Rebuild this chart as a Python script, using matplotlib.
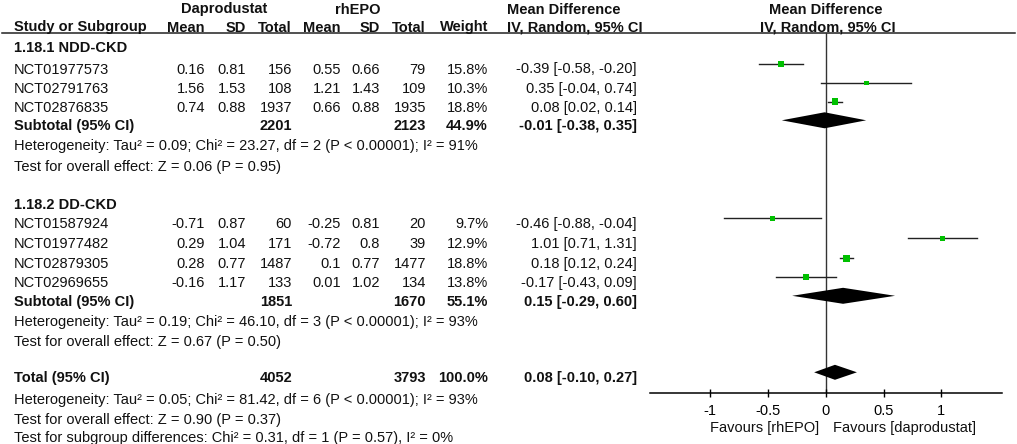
import numpy as np
import matplotlib
matplotlib.use("Agg")
from matplotlib import pyplot as plt
from matplotlib.patches import Rectangle

plt.rcParams['font.family'] = ['Liberation Sans', 'DejaVu Sans']

# --- data ---
studies1 = ["NCT01977573", "NCT02791763", "NCT02876835"]
dap_mean1 = [0.16, 1.56, 0.74]
dap_sd1 = [0.81, 1.53, 0.88]
dap_n1 = [156, 108, 1937]
epo_mean1 = [0.55, 1.21, 0.66]
epo_sd1 = [0.66, 1.43, 0.88]
epo_n1 = [79, 109, 1935]
weight1 = [15.8, 10.3, 18.8]
md1 = [-0.39, 0.35, 0.08]
lo1 = [-0.58, -0.04, 0.02]
hi1 = [-0.20, 0.74, 0.14]
sub1 = [-0.01, -0.38, 0.35]
sub1_n = [2201, 2123]
sub1_w = 44.9

studies2 = ["NCT01587924", "NCT01977482", "NCT02879305", "NCT02969655"]
dap_mean2 = [-0.71, 0.29, 0.28, -0.16]
dap_sd2 = [0.87, 1.04, 0.77, 1.17]
dap_n2 = [60, 171, 1487, 133]
epo_mean2 = [-0.25, -0.72, 0.1, 0.01]
epo_sd2 = [0.81, 0.8, 0.77, 1.02]
epo_n2 = [20, 39, 1477, 134]
weight2 = [9.7, 12.9, 18.8, 13.8]
md2 = [-0.46, 1.01, 0.18, -0.17]
lo2 = [-0.88, 0.71, 0.12, -0.43]
hi2 = [-0.04, 1.31, 0.24, 0.09]
sub2 = [0.15, -0.29, 0.60]
sub2_n = [1851, 1670]
sub2_w = 55.1

total = [0.08, -0.10, 0.27]
total_n = [4052, 3793]
total_w = 100.0

het1 = "Heterogeneity: Tau² = 0.09; Chi² = 23.27, df = 2 (P < 0.00001); I² = 91%"
eff1 = "Test for overall effect: Z = 0.06 (P = 0.95)"
het2 = "Heterogeneity: Tau² = 0.19; Chi² = 46.10, df = 3 (P < 0.00001); I² = 93%"
eff2 = "Test for overall effect: Z = 0.67 (P = 0.50)"
het_t = "Heterogeneity: Tau² = 0.05; Chi² = 81.42, df = 6 (P < 0.00001); I² = 93%"
eff_t = "Test for overall effect: Z = 0.90 (P = 0.37)"
sub_diff = "Test for subgroup differences: Chi² = 0.31, df = 1 (P = 0.57), I² = 0%"

ticks = [-1, -0.5, 0, 0.5, 1]
tick_labels = ["-1", "-0.5", "0", "0.5", "1"]

# --- layout (pixel units) ---
W, H = 1017, 444
FS = 10.5
col_x = {'dm': 205, 'dsd': 246, 'dn': 292, 'em': 341, 'esd': 380, 'en': 426,
         'w': 488, 'md': 637}
LEFT = 14
fx_left, fx_right, fx_top, fx_bot = 650, 1002, 33, 393
XMIN, XMAX = -1.52, 1.525
PX_PER_UNIT = (fx_right - fx_left) / (XMAX - XMIN)
MARK_OFF = 9.7

fig = plt.figure(figsize=(W / 100, H / 100), dpi=100)
tx = fig.add_axes([0, 0, 1, 1])
tx.set_xlim(0, W)
tx.set_ylim(H, 0)
tx.axis('off')

fx = fig.add_axes([fx_left / W, (H - fx_bot) / H, (fx_right - fx_left) / W,
                   (fx_bot - fx_top) / H])
fx.set_xlim(XMIN, XMAX)
fx.set_ylim(fx_bot, fx_top)
fx.patch.set_alpha(0)
for s in ['top', 'left', 'right']:
    fx.spines[s].set_visible(False)
fx.spines['bottom'].set_linewidth(1.1)
fx.set_yticks([])
fx.set_xticks(ticks)
fx.set_xticklabels(tick_labels, fontsize=FS)
fx.tick_params(axis='x', direction='inout', length=6, width=1.0, pad=5)
fx.axvline(0, color='#333333', lw=1.0, zorder=1)


def t(x, y, s, ha='left', bold=False):
    tx.text(x, y, s, ha=ha, va='baseline', fontsize=FS,
            fontweight='bold' if bold else 'normal', color='#111111')


# header
t(224, 13.5, "Daprodustat", ha='center', bold=True)
t(358, 13.5, "rhEPO", ha='center', bold=True)
t(507, 13.5, "Mean Difference", bold=True)
t(826, 13.5, "Mean Difference", ha='center', bold=True)
t(LEFT, 31.5, "Study or Subgroup", bold=True)
for key, lab in [('dm', 'Mean'), ('dsd', 'SD'), ('dn', 'Total'), ('em', 'Mean'),
                 ('esd', 'SD'), ('en', 'Total'), ('w', 'Weight')]:
    t(col_x[key], 31.5, lab, ha='right', bold=True)
t(507, 31.5, "IV, Random, 95% CI", bold=True)
t(828, 31.5, "IV, Random, 95% CI", ha='center', bold=True)
tx.plot([2, 1015], [33, 33], color='#222222', lw=1.1)


def ci_str(m, l, h):
    return f"{m:.2f} [{l:.2f}, {h:.2f}]"


def study_rows(names, dm, dsd, dn, em, esd, en, w, md, lo, hi, ys):
    for i, y in enumerate(ys):
        t(LEFT, y, names[i])
        t(col_x['dm'], y, f"{dm[i]:g}", ha='right')
        t(col_x['dsd'], y, f"{dsd[i]:g}", ha='right')
        t(col_x['dn'], y, f"{dn[i]}", ha='right')
        t(col_x['em'], y, f"{em[i]:g}", ha='right')
        t(col_x['esd'], y, f"{esd[i]:g}", ha='right')
        t(col_x['en'], y, f"{en[i]}", ha='right')
        t(col_x['w'], y, f"{w[i]:.1f}%", ha='right')
        t(col_x['md'], y, ci_str(md[i], lo[i], hi[i]), ha='right')
        ym = y - MARK_OFF
        fx.plot([lo[i], hi[i]], [ym, ym], color='#222222', lw=1.0, zorder=2)
        side = 1.55 * np.sqrt(w[i])  # square side in pixels, scaled by weight
        fx.add_patch(Rectangle((md[i] - side / 2 / PX_PER_UNIT, ym - side / 2),
                               side / PX_PER_UNIT, side, facecolor='#00c000',
                               edgecolor='none', zorder=3))


def summary_row(label, y, n, w, est, half=8):
    t(LEFT, y, label, bold=True)
    t(col_x['dn'], y, f"{n[0]}", ha='right', bold=True)
    t(col_x['en'], y, f"{n[1]}", ha='right', bold=True)
    t(col_x['w'], y, f"{w:.1f}%", ha='right', bold=True)
    t(col_x['md'], y, ci_str(*est), ha='right', bold=True)
    m, l, h = est
    ym = y - MARK_OFF
    fx.fill([l, m, h, m], [ym, ym - half, ym, ym + half], color='black',
            lw=0, zorder=3, clip_on=False)


# subgroup 1
t(LEFT, 51.5, "1.18.1 NDD-CKD", bold=True)
study_rows(studies1, dap_mean1, dap_sd1, dap_n1, epo_mean1, epo_sd1, epo_n1,
           weight1, md1, lo1, hi1, [73.5, 92.7, 111.5])
summary_row("Subtotal (95% CI)", 130, sub1_n, sub1_w, sub1)
t(LEFT, 150, het1)
t(LEFT, 170.5, eff1)

# subgroup 2
t(LEFT, 209, "1.18.2 DD-CKD", bold=True)
study_rows(studies2, dap_mean2, dap_sd2, dap_n2, epo_mean2, epo_sd2, epo_n2,
           weight2, md2, lo2, hi2, [228, 248, 268, 287])
summary_row("Subtotal (95% CI)", 305.5, sub2_n, sub2_w, sub2)
t(LEFT, 326, het2)
t(LEFT, 345.5, eff2)

# overall
summary_row("Total (95% CI)", 382, total_n, total_w, total, half=7.5)
t(LEFT, 403.5, het_t)
t(LEFT, 423.5, eff_t)
t(LEFT, 442, sub_diff)

t(819, 431.5, "Favours [rhEPO]", ha='right')
t(833, 431.5, "Favours [daprodustat]")

fig.savefig("out.png", dpi=100)
